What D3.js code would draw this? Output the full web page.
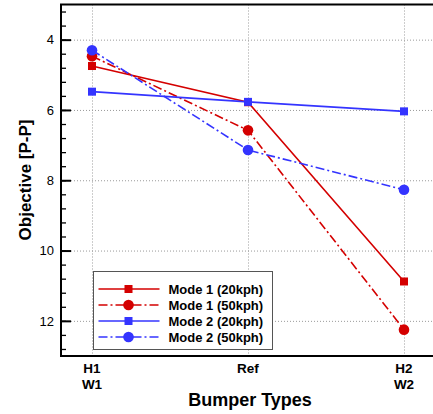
<!DOCTYPE html>
<html>
<head>
<meta charset="utf-8">
<script src="https://cdn.jsdelivr.net/npm/d3@7"></script>
<style>
  body { margin: 0; background: #fff; }
  svg { display: block; font-family: "Liberation Sans", Arial, sans-serif; }
</style>
</head>
<body>
<svg id="chart" width="433" height="414"></svg>
<script>
// bumper types on the x axis
const categories = ["H1|W1", "Ref", "H2|W2"];
const yTicks = [4, 6, 8, 10, 12];

const mode1_20 = [4.75, 5.78, 10.88];
const mode1_50 = [4.47, 6.58, 12.25];
const mode2_20 = [5.48, 5.77, 6.04];
const mode2_50 = [4.30, 7.14, 8.27];

const seriesNames = ["Mode 1 (20kph)", "Mode 1 (50kph)", "Mode 2 (20kph)", "Mode 2 (50kph)"];

const RED = "#d40000", BLUE = "#3434ff";
const series = [
  { name: seriesNames[0], values: mode1_20, color: RED, dash: null, mark: "square" },
  { name: seriesNames[1], values: mode1_50, color: RED, dash: "9,3,2,3", mark: "circle" },
  { name: seriesNames[2], values: mode2_20, color: BLUE, dash: null, mark: "square" },
  { name: seriesNames[3], values: mode2_50, color: BLUE, dash: "9,3,2,3", mark: "circle" }
];

const svg = d3.select("#chart");
const pLeft = 61, pRight = 445, pTop = 4.5, pBottom = 356;

const x = d3.scalePoint().domain(categories).range([92, 404]);
const y = d3.scaleLinear().domain([3, 13]).range([pTop, pBottom]);

const grid = svg.append("g")
    .attr("stroke", "#9a9a9a")
    .attr("stroke-width", 1)
    .attr("stroke-dasharray", "1,2");

grid.selectAll("line.h")
  .data(yTicks)
  .join("line")
    .attr("class", "h")
    .attr("x1", pLeft + 10).attr("x2", pRight)
    .attr("y1", d => y(d) + 0.5).attr("y2", d => y(d) + 0.5);

grid.selectAll("line.v")
  .data(categories)
  .join("line")
    .attr("class", "v")
    .attr("x1", d => x(d) + 0.5).attr("x2", d => x(d) + 0.5)
    .attr("y1", pTop).attr("y2", pBottom);

// y axis with inward ticks
const yAxis = svg.append("g").attr("transform", `translate(${pLeft},0)`);
yAxis.call(d3.axisRight(y).tickValues(d3.range(3.2, 13, 0.4)).tickSize(5).tickFormat(""))
yAxis.select(".domain").remove();
yAxis.selectAll(".tick line").attr("stroke", "#000").attr("stroke-width", 1.3);

const yMajor = svg.append("g").attr("transform", `translate(${pLeft},0)`);
yMajor.call(d3.axisRight(y).tickValues(yTicks).tickSize(10).tickFormat(""));
yMajor.select(".domain").remove();
yMajor.selectAll(".tick line").attr("stroke", "#000").attr("stroke-width", 2);

svg.append("g")
  .selectAll("text")
  .data(yTicks)
  .join("text")
    .attr("x", 54)
    .attr("y", d => y(d))
    .attr("dy", "0.36em")
    .attr("text-anchor", "end")
    .attr("font-size", 13)
    .text(d => d);

// frame
svg.append("path")
    .attr("fill", "none")
    .attr("stroke", "#000")
    .attr("stroke-width", 2)
    .attr("d", `M${pRight},${pTop}H${pLeft}V${pBottom}H${pRight}`);

// series
const line = d3.line().x((d, i) => x(categories[i])).y(d => y(d));

const g = svg.append("g").selectAll("g")
  .data(series)
  .join("g");

g.append("path")
    .attr("fill", "none")
    .attr("stroke", d => d.color)
    .attr("stroke-width", 1.6)
    .attr("stroke-dasharray", d => d.dash)
    .attr("d", d => line(d.values));

function drawMark(sel, d, cx, cy) {
  if (d.mark === "square") {
    sel.append("rect")
        .attr("x", cx - 4).attr("y", cy - 4)
        .attr("width", 8).attr("height", 8)
        .attr("fill", d.color);
  } else {
    sel.append("circle")
        .attr("cx", cx).attr("cy", cy)
        .attr("r", 5.3)
        .attr("fill", d.color);
  }
}

g.each(function(d) {
  const sel = d3.select(this);
  d.values.forEach((v, i) => drawMark(sel, d, x(categories[i]), y(v)));
});

// x tick labels (two lines, one text per line)
const xLines = categories.flatMap(c => c.split("|").map((t, i) => ({ cat: c, t, i })));
svg.append("g")
  .selectAll("text")
  .data(xLines)
  .join("text")
    .attr("x", d => x(d.cat))
    .attr("y", d => 373 + d.i * 15.5)
    .attr("text-anchor", "middle")
    .attr("font-size", 13.5)
    .attr("font-weight", "bold")
    .text(d => d.t);

svg.append("text")
    .attr("x", 250).attr("y", 406)
    .attr("text-anchor", "middle")
    .attr("font-size", 18)
    .attr("font-weight", "bold")
    .text("Bumper Types");

svg.append("text")
    .attr("transform", "translate(31,180) rotate(-90)")
    .attr("text-anchor", "middle")
    .attr("font-size", 17)
    .attr("font-weight", "bold")
    .text("Objective [P-P]");

// legend
const legend = svg.append("g").attr("transform", "translate(93.5,271.5)");
legend.append("rect")
    .attr("width", 179).attr("height", 78)
    .attr("fill", "#fff")
    .attr("stroke", "#555")
    .attr("stroke-width", 1);

const item = legend.selectAll("g")
  .data(series)
  .join("g")
    .attr("transform", (d, i) => `translate(0,${17.5 + i * 16})`);

item.append("line")
    .attr("x1", 5).attr("x2", 66)
    .attr("stroke", d => d.color)
    .attr("stroke-width", 1.6)
    .attr("stroke-dasharray", d => d.dash);
item.each(function(d) { drawMark(d3.select(this), d, 35, 0); });
item.append("text")
    .attr("x", 75)
    .attr("dy", "0.36em")
    .attr("font-size", 13)
    .attr("font-weight", "bold")
    .text(d => d.name);
</script>
</body>
</html>
